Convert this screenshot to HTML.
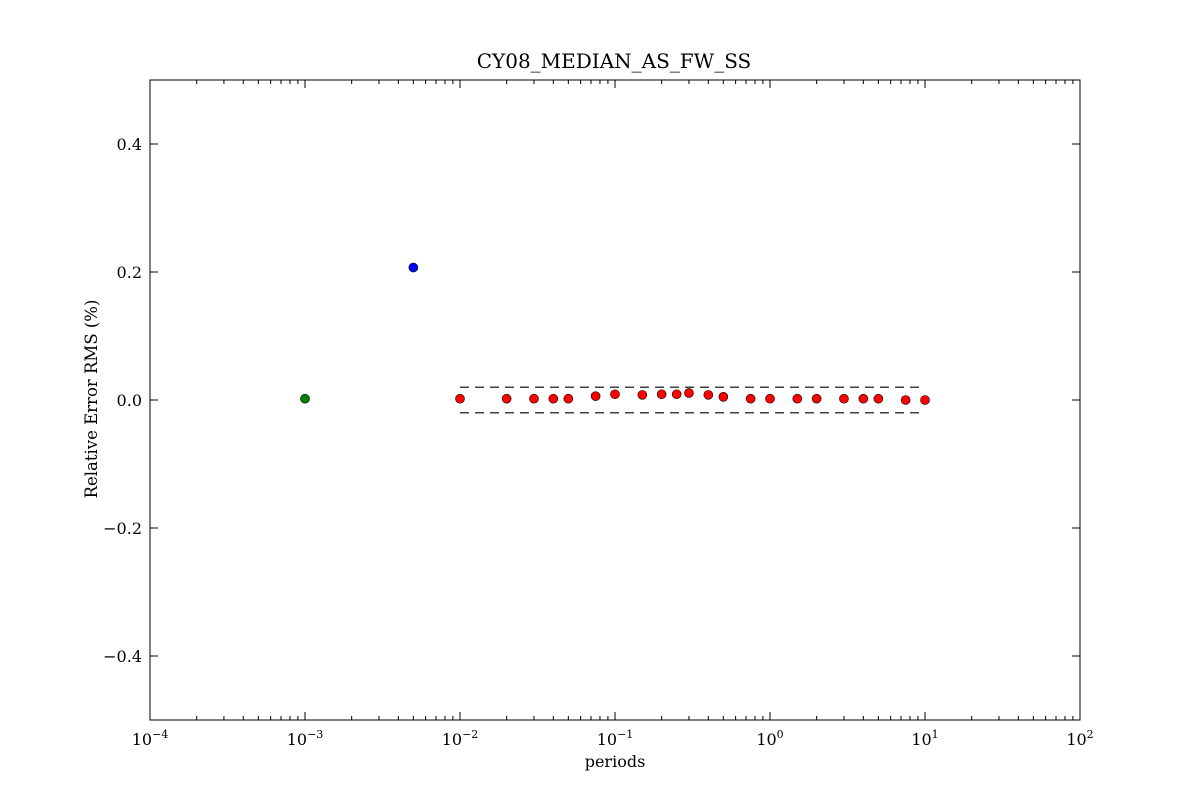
<!DOCTYPE html>
<html><head><meta charset="utf-8"><style>body{margin:0;background:#fff}svg{display:block}text{font-family:"DejaVu Serif","Liberation Serif",serif;fill:#000}</style></head>
<body>
<svg id="chart" width="1200" height="800" xmlns="http://www.w3.org/2000/svg"></svg>
<script>
const redPeriods=[0.01,0.02,0.03,0.04,0.05,0.075,0.1,0.15,0.2,0.25,0.3,0.4,0.5,0.75,1,1.5,2,3,4,5,7.5,10];
const redValues=[0.002,0.002,0.002,0.002,0.002,0.006,0.009,0.008,0.009,0.009,0.011,0.008,0.005,0.002,0.002,0.002,0.002,0.002,0.002,0.002,0.0,0.0];
const greenPoint=[0.001,0.002];
const bluePoint=[0.005,0.207];
const bandLimits=[-0.02,0.02];
const bandRange=[0.01,9.5];
const yTicks=[-0.4,-0.2,0.0,0.2,0.4];
const yTickLabels=["\u22120.4","\u22120.2","0.0","0.2","0.4"];
const xExps=[-4,-3,-2,-1,0,1,2];

const L=150,R=1080,T=80,B=720;
const X=v=>L+(Math.log10(v)+4)/6*(R-L);
const Y=v=>B-(v+0.5)/1*(B-T);
const svg=document.getElementById('chart');
const NS='http://www.w3.org/2000/svg';
function mk(tag,attrs,parent){const e=document.createElementNS(NS,tag);for(const k in attrs)e.setAttribute(k,attrs[k]);(parent||svg).appendChild(e);return e;}

let frame=mk('rect',{x:L,y:T,width:R-L,height:B-T,fill:'none',stroke:'#000','stroke-width':1});



for(const e of xExps){
  const x=X(Math.pow(10,e));
  mk('line',{x1:x,x2:x,y1:B,y2:B-8,stroke:'#000'});
  mk('line',{x1:x,x2:x,y1:T,y2:T+8,stroke:'#000'});
  const t=mk('text',{x:x,y:B+25,'text-anchor':'middle','font-size':16});
  
  
  t.innerHTML='10<tspan dy="-7" font-size="11">'+(e<0?'\u2212'+(-e):e)+'</tspan>';
  if(e<2)for(let m=2;m<10;m++){const xm=X(m*Math.pow(10,e));
    mk('line',{x1:xm,x2:xm,y1:B,y2:B-4,stroke:'#000'});
    mk('line',{x1:xm,x2:xm,y1:T,y2:T+4,stroke:'#000'});}
}
yTicks.forEach((v,i)=>{
  const y=Y(v);
  mk('line',{x1:L,x2:L+8,y1:y,y2:y,stroke:'#000'});
  mk('line',{x1:R,x2:R-8,y1:y,y2:y,stroke:'#000'});
  const t=mk('text',{x:L-8,y:y+6,'text-anchor':'end','font-size':16});
  
  
  t.textContent=yTickLabels[i];
});
bandLimits.forEach(b=>{
  const l=mk('line',{x1:X(bandRange[0]),x2:X(bandRange[1]),y1:Y(b),y2:Y(b),stroke:'#000','stroke-width':1.2,'stroke-dasharray':'9,6'});
  
  
});
function pt(x,y,c,name){const p=mk('circle',{cx:X(x),cy:Y(y),r:4.5,fill:c,stroke:'#000','stroke-width':0.6});
  
  }
pt(greenPoint[0],greenPoint[1],'#008000','green-point');
pt(bluePoint[0],bluePoint[1],'#0000ff','blue-point');
redPeriods.forEach((p,i)=>pt(p,redValues[i],'#ff0000','red-point'));

let t=mk('text',{x:(L+R)/2-1,y:68,'text-anchor':'middle','font-size':20});


t.textContent='CY08_MEDIAN_AS_FW_SS';
t=mk('text',{x:(L+R)/2,y:767,'text-anchor':'middle','font-size':16});


t.textContent='periods';
t=mk('text',{x:97,y:399,'text-anchor':'middle','font-size':16.5,transform:'rotate(-90 97 399)'});


t.textContent='Relative Error RMS (%)';
</script>
</body></html>
